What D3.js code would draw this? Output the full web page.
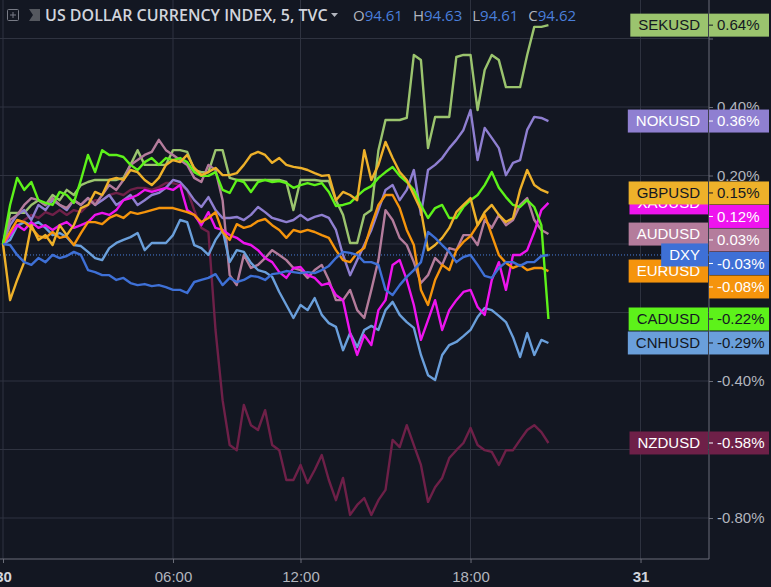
<!DOCTYPE html>
<html lang="en">
<head>
<meta charset="UTF-8">
<script src="https://d3js.org/d3.v7.min.js"></script>
<style>
  html, body { margin: 0; padding: 0; background: #131722; overflow: hidden; }
  svg { display: block; }
</style>
</head>
<body>
<svg id="chart" width="771" height="587"></svg>
<script>
// 5-minute bars, one sample kept every 3 bars
const barIndex = d3.range(0, 232, 3);

// time axis (bar numbers) and its labels
const timeTicks = [0, 72, 126, 198, 270];
const timeLabels = ["30", "06:00", "12:00", "18:00", "31"];
const dayBreak = [true, false, false, false, true];

// price axis, % change
const priceTicks = [0.6, 0.4, 0.2, 0, -0.2, -0.4, -0.6, -0.8];

// header
const titleText = "US DOLLAR CURRENCY INDEX, 5, TVC";
const ohlcKeys = ["O", "H", "L", "C"];
const ohlcValues = ["94.61", "94.63", "94.61", "94.62"];

// % change since the session open
const sekusd = [0, 0.091, 0.091, 0.091, 0.114, 0.128, 0.114, 0.143, 0.128, 0.158,
  0.143, 0.172, 0.181, 0.187, 0.187, 0.187, 0.187, 0.193, 0.231, 0.274,
  0.231, 0.231, 0.231, 0.231, 0.274, 0.274, 0.269, 0.216, 0.210, 0.210,
  0.274, 0.274, 0.193, 0.187, 0.187, 0.187, 0.187, 0.187, 0.187, 0.187,
  0.181, 0.099, 0.187, 0.187, 0.187, 0.184, 0.184, 0.128, 0.085, 0.003,
  0.003, 0.085, 0.099, 0.274, 0.362, 0.362, 0.362, 0.368, 0.552, 0.537,
  0.280, 0.371, 0.371, 0.371, 0.546, 0.552, 0.552, 0.391, 0.508, 0.552,
  0.537, 0.458, 0.458, 0.458, 0.552, 0.634, 0.634, 0.639];

const nokusd = [0, 0.055, 0.085, 0.099, 0.070, 0.114, 0.099, 0.128, 0.114, 0.099,
  0.128, 0.114, 0.134, 0.114, 0.128, 0.143, 0.114, 0.128, 0.143, 0.114,
  0.128, 0.143, 0.149, 0.164, 0.187, 0.181, 0.158, 0.128, 0.108, 0.137,
  0.099, 0.076, 0.076, 0.079, 0.070, 0.085, 0.108, 0.093, 0.076, 0.070,
  0.064, 0.070, 0.085, 0.070, 0.079, 0.085, 0.076, 0.041, -0.032, -0.091,
  -0.047, -0.003, 0.041, 0.099, 0.158, 0.172, 0.128, 0.158, 0.216, 0.085,
  0.216, 0.231, 0.251, 0.280, 0.304, 0.333, 0.391, 0.245, 0.339, 0.310,
  0.280, 0.201, 0.237, 0.245, 0.333, 0.371, 0.368, 0.359];

const gbpusd = [0, -0.164, -0.105, -0.053, 0.055, 0.012, 0.026, -0.003, 0.055, 0.026,
  0.055, 0.105, 0.114, 0.152, 0.143, 0.187, 0.193, 0.187, 0.216, 0.210,
  0.187, 0.172, 0.193, 0.231, 0.245, 0.239, 0.260, 0.222, 0.201, 0.210,
  0.222, 0.201, 0.201, 0.207, 0.231, 0.260, 0.269, 0.260, 0.237, 0.251,
  0.231, 0.225, 0.222, 0.216, 0.207, 0.199, 0.201, 0.128, 0.152, 0.143,
  0.128, 0.274, 0.187, 0.231, 0.298, 0.251, 0.210, 0.187, 0.143, 0.099,
  -0.018, -0.003, 0.018, 0.047, 0.093, 0.114, 0.134, 0.055, 0.093, 0.114,
  0.085, 0.064, 0.076, 0.158, 0.216, 0.172, 0.158, 0.149];

const xauusd = [0, 0.026, 0.055, 0.041, 0.064, 0.047, 0.055, 0.041, 0.055, 0.064,
  0.047, 0.055, 0.064, 0.085, 0.091, 0.085, 0.099, 0.128, 0.134, 0.143,
  0.158, 0.152, 0.158, 0.164, 0.158, 0.172, 0.099, 0.085, 0.055, 0.093,
  0.047, 0.041, 0.026, 0.018, 0.003, -0.003, -0.018, -0.041, -0.053, -0.082,
  -0.099, -0.070, -0.067, -0.091, -0.099, -0.120, -0.114, -0.149, -0.164, -0.260,
  -0.324, -0.266, -0.295, -0.193, -0.164, -0.061, -0.047, -0.105, -0.178, -0.280,
  -0.222, -0.164, -0.251, -0.193, -0.164, -0.140, -0.134, -0.184, -0.207, -0.105,
  -0.053, -0.134, -0.032, -0.032, -0.018, 0.035, 0.099, 0.120];

const audusd = [0, 0.070, 0.085, 0.114, 0.134, 0.128, 0.114, 0.134, 0.114, 0.105,
  0.128, 0.114, 0.134, 0.114, 0.143, 0.172, 0.158, 0.187, 0.231, 0.245,
  0.260, 0.269, 0.304, 0.274, 0.260, 0.245, 0.231, 0.193, 0.181, 0.231,
  0.216, 0.128, -0.091, -0.120, -0.032, -0.070, -0.061, -0.041, -0.018, -0.032,
  -0.047, -0.070, -0.076, -0.099, -0.076, -0.061, -0.105, -0.164, -0.164, -0.134,
  -0.193, -0.216, -0.134, -0.047, 0.099, 0.070, 0.018, -0.003, -0.053, -0.114,
  -0.091, -0.041, -0.061, -0.012, -0.018, 0.026, 0.026, -0.003, 0.070, 0.047,
  0.085, 0.055, 0.070, 0.114, 0.134, 0.070, 0.041, 0.029];

const dxy = [0, -0.003, -0.032, -0.053, -0.061, -0.041, -0.053, -0.032, -0.041, -0.035,
  -0.023, -0.032, -0.076, -0.082, -0.091, -0.091, -0.105, -0.099, -0.114, -0.120,
  -0.117, -0.123, -0.120, -0.126, -0.134, -0.134, -0.143, -0.111, -0.105, -0.099,
  -0.088, -0.120, -0.099, -0.111, -0.105, -0.093, -0.096, -0.105, -0.088, -0.085,
  -0.079, -0.082, -0.085, -0.082, -0.085, -0.076, -0.064, -0.041, -0.023, -0.026,
  -0.032, -0.053, -0.053, -0.061, -0.134, -0.149, -0.120, -0.096, -0.076, -0.053,
  0.035, 0.018, -0.003, -0.023, -0.053, -0.038, -0.032, -0.061, -0.093, -0.099,
  -0.070, -0.053, -0.053, -0.064, -0.053, -0.053, -0.035, -0.032];

const eurusd = [0, 0.035, 0.070, 0.064, 0.047, 0.023, 0.018, 0.035, 0.018, 0.023,
  -0.003, 0.032, 0.064, 0.064, 0.058, 0.076, 0.085, 0.076, 0.093, 0.088,
  0.093, 0.099, 0.105, 0.105, 0.105, 0.099, 0.093, 0.085, 0.064, 0.076,
  0.093, 0.035, 0.012, 0.058, 0.047, 0.053, 0.067, 0.073, 0.055, 0.041,
  0.018, 0.041, 0.035, 0.041, 0.035, 0.026, 0.018, -0.018, -0.047, -0.053,
  -0.026, -0.012, 0.055, 0.114, 0.143, 0.143, 0.105, 0.041, -0.003, -0.134,
  -0.178, -0.105, -0.061, -0.076, -0.018, 0.006, 0.023, 0.055, 0.085, 0.026,
  -0.032, -0.055, -0.070, -0.061, -0.076, -0.070, -0.070, -0.079];

const cadusd = [0, 0.114, 0.193, 0.158, 0.181, 0.128, 0.120, 0.114, 0.152, 0.143,
  0.120, 0.187, 0.260, 0.210, 0.274, 0.260, 0.260, 0.254, 0.231, 0.216,
  0.239, 0.251, 0.231, 0.251, 0.245, 0.251, 0.239, 0.210, 0.199, 0.199,
  0.210, 0.158, 0.149, 0.187, 0.181, 0.152, 0.181, 0.187, 0.181, 0.184,
  0.178, 0.164, 0.172, 0.178, 0.172, 0.178, 0.152, 0.111, 0.114, 0.120,
  0.140, 0.158, 0.169, 0.193, 0.210, 0.225, 0.199, 0.181, 0.158, 0.114,
  0.076, 0.105, 0.114, 0.076, 0.076, 0.108, 0.128, 0.143, 0.172, 0.210,
  0.164, 0.137, 0.114, 0.108, 0.128, 0.108, 0.055, -0.219];

const cnhusd = [0, 0.012, 0.053, 0.064, 0.055, 0.064, 0.047, 0.026, 0.032, 0.020,
  -0.003, -0.006, -0.023, -0.041, -0.047, -0.012, 0.003, 0.012, 0.020, 0.032,
  -0.018, 0.003, 0.003, 0.003, 0.026, 0.070, 0.064, -0.003, -0.012, -0.032,
  0.012, 0.041, -0.053, -0.018, -0.023, -0.055, -0.076, -0.082, -0.096, -0.140,
  -0.178, -0.216, -0.178, -0.193, -0.158, -0.207, -0.231, -0.242, -0.310, -0.260,
  -0.301, -0.251, -0.239, -0.251, -0.193, -0.169, -0.207, -0.228, -0.245, -0.324,
  -0.383, -0.397, -0.324, -0.295, -0.286, -0.269, -0.251, -0.213, -0.187, -0.193,
  -0.210, -0.228, -0.272, -0.330, -0.260, -0.324, -0.280, -0.289];

const nzdusd = [0, 0.026, 0.055, 0.070, 0.085, 0.076, 0.093, 0.085, 0.099, 0.085,
  0.099, 0.093, 0.114, 0.128, 0.128, 0.143, 0.149, 0.143, 0.158, 0.164,
  0.164, 0.158, 0.166, 0.178, 0.178, 0.172, 0.158, 0.099, 0.047, 0.035,
  -0.251, -0.456, -0.587, -0.602, -0.470, -0.529, -0.543, -0.485, -0.587, -0.602,
  -0.689, -0.689, -0.645, -0.698, -0.660, -0.616, -0.689, -0.748, -0.683, -0.791,
  -0.762, -0.742, -0.791, -0.748, -0.718, -0.572, -0.593, -0.529, -0.587, -0.645,
  -0.753, -0.710, -0.683, -0.625, -0.602, -0.581, -0.537, -0.587, -0.602, -0.607,
  -0.645, -0.602, -0.602, -0.572, -0.543, -0.529, -0.549, -0.581];

// drawing order = z order of the lines
const series = [
  { name: "SEKUSD", values: sekusd, color: "#9bc46e", ink: "#131722" },
  { name: "NZDUSD", values: nzdusd, color: "#6e2048", ink: "#ffffff" },
  { name: "NOKUSD", values: nokusd, color: "#8f7fd1", ink: "#ffffff" },
  { name: "AUDUSD", values: audusd, color: "#b47c9c", ink: "#ffffff" },
  { name: "CNHUSD", values: cnhusd, color: "#6a9fdb", ink: "#131722" },
  { name: "XAUUSD", values: xauusd, color: "#ee14ee", ink: "#ffffff" },
  { name: "EURUSD", values: eurusd, color: "#f5940c", ink: "#ffffff" },
  { name: "CADUSD", values: cadusd, color: "#5df21a", ink: "#131722" },
  { name: "GBPUSD", values: gbpusd, color: "#eeb12a", ink: "#131722" },
  { name: "DXY", values: dxy, color: "#3e70d6", ink: "#ffffff" }
];

const W = 771, H = 587;
const plotRight = 709, plotBottom = 559;
const boxH = 23;
const font = "'Liberation Sans', Arial, sans-serif";

const x = d3.scaleLinear().domain([0, 299]).range([3, plotRight]);
const y = d3.scaleLinear().domain([-0.8, 0.6]).range([518, 38.5]);

// where the value tags sit on the price scale (pushed apart downwards)
const last = series.map(s => s.values[s.values.length - 1]);
const lastY = last.map(v => y(v));
const order = d3.range(series.length).sort((a, b) => lastY[a] - lastY[b]);
const valY = [];
let prev = -Infinity;
order.forEach(i => {
  valY[i] = Math.max(lastY[i], prev + 23.5);
  prev = valY[i];
});
const underTag = v => valY.some(t => Math.abs(t - y(v)) < boxH / 2 + 2);

const svg = d3.select("#chart");
svg.append("rect").attr("width", W).attr("height", H).attr("fill", "#131722");

// grid
svg.append("g").selectAll("line.vg").data(timeTicks).join("line")
  .attr("class", "vg")
  .attr("x1", d => x(d)).attr("x2", d => x(d))
  .attr("y1", 0).attr("y2", plotBottom)
  .attr("stroke", "#2f3340");
svg.append("g").selectAll("line.hg").data(priceTicks).join("line")
  .attr("class", "hg")
  .attr("x1", 0).attr("x2", plotRight)
  .attr("y1", d => y(d)).attr("y2", d => y(d))
  .attr("stroke", "#2f3340");

// axes
const gx = svg.append("g")
  .attr("transform", `translate(0,${plotBottom})`)
  .call(d3.axisBottom(x).tickValues(timeTicks)
    .tickFormat((d, i) => timeLabels[i]).tickSize(4).tickPadding(8));
gx.select(".domain").remove();
gx.attr("font-size", 15).attr("font-family", font);
gx.selectAll("line").attr("stroke", "#6a6d78");
gx.selectAll("text")
  .attr("fill", (d, i) => dayBreak[i] ? "#d1d4dc" : "#b2b5be")
  .attr("font-weight", (d, i) => dayBreak[i] ? "bold" : "normal");

const gy = svg.append("g")
  .attr("transform", `translate(${plotRight},0)`)
  .call(d3.axisRight(y).tickValues(priceTicks)
    .tickFormat(d => d.toFixed(2) + "%").tickSize(4).tickPadding(4));
gy.select(".domain").remove();
gy.attr("font-size", 15).attr("font-family", font);
gy.selectAll("line").attr("stroke", "#6a6d78");
gy.selectAll("text").attr("fill", "#b2b5be");
// labels fully covered by the value tags are not shown
gy.selectAll(".tick").filter(d => underTag(d)).select("text").remove();

svg.append("line").attr("x1", plotRight).attr("x2", plotRight)
  .attr("y1", 0).attr("y2", plotBottom).attr("stroke", "#6a6d78");
svg.append("line").attr("x1", 0).attr("x2", plotRight)
  .attr("y1", plotBottom).attr("y2", plotBottom).attr("stroke", "#6a6d78");

// DXY last price line
const dxyLast = dxy[dxy.length - 1];
svg.append("line").attr("x1", 0).attr("x2", plotRight)
  .attr("y1", y(dxyLast)).attr("y2", y(dxyLast))
  .attr("stroke", "#4a7fdb").attr("stroke-dasharray", "1,2");

// lines
const line = d3.line().x((d, i) => x(barIndex[i])).y(d => y(d));
svg.append("g").selectAll("path").data(series).join("path")
  .attr("d", d => line(d.values))
  .attr("fill", "none")
  .attr("stroke", d => d.color)
  .attr("stroke-width", 2.4)
  .attr("stroke-linejoin", "round");

// name tags: DXY on top, GBPUSD above XAUUSD
const nameOrder = ["NZDUSD", "CNHUSD", "CADUSD", "EURUSD", "AUDUSD", "XAUUSD",
  "GBPUSD", "NOKUSD", "SEKUSD", "DXY"];
const tags = svg.append("g").attr("font-family", font).attr("font-size", 15);
nameOrder.forEach(n => {
  const i = series.findIndex(s => s.name === n);
  const s = series[i];
  const g = tags.append("g");
  const r = g.append("rect");
  const t = g.append("text").text(s.name)
    .attr("y", lastY[i]).attr("dy", "0.35em").attr("fill", s.ink);
  const w = t.node().getComputedTextLength() + 16;
  t.attr("x", plotRight - 1 - w + 8);
  r.attr("x", plotRight - 1 - w).attr("y", lastY[i] - boxH / 2)
    .attr("width", w).attr("height", boxH).attr("fill", s.color);
});

order.forEach(i => {
  const s = series[i];
  const g = tags.append("g");
  g.append("rect").attr("x", plotRight).attr("y", valY[i] - boxH / 2)
    .attr("width", 60).attr("height", boxH).attr("fill", s.color);
  g.append("line").attr("x1", plotRight).attr("x2", plotRight + 4)
    .attr("y1", valY[i]).attr("y2", valY[i]).attr("stroke", s.ink);
  g.append("text").text(last[i].toFixed(2) + "%")
    .attr("x", plotRight + 8).attr("y", valY[i]).attr("dy", "0.35em")
    .attr("fill", s.ink);
});

// header
const head = svg.append("g");
head.append("rect").attr("x", 7.5).attr("y", 9.5).attr("width", 11).attr("height", 11)
  .attr("fill", "none").attr("stroke", "#787b86").attr("rx", 1);
head.append("path").attr("d", "M13,12 V18 M10,15 H16").attr("stroke", "#787b86");
head.append("path").attr("d", "M29,9 H40 V21 H29 L33,15 Z").attr("fill", "#55585f");
head.append("text").text(titleText)
  .attr("x", 45).attr("y", 21)
  .attr("font-family", "'Open Sans', sans-serif").attr("font-weight", 600)
  .attr("font-size", 16).attr("fill", "#d1d4dc");
head.append("path").attr("d", "M331,13 H338 L334.5,17 Z").attr("fill", "#b2b5be");

const ohlc = head.append("text").attr("x", 353).attr("y", 21)
  .attr("font-family", "'Open Sans', sans-serif").attr("font-size", 15);
ohlcKeys.forEach((k, i) => {
  ohlc.append("tspan").text(k).attr("fill", "#b2b5be").attr("dx", i ? 10 : 0);
  ohlc.append("tspan").text(ohlcValues[i]).attr("fill", "#4a7fdb");
});
</script>
</body>
</html>
